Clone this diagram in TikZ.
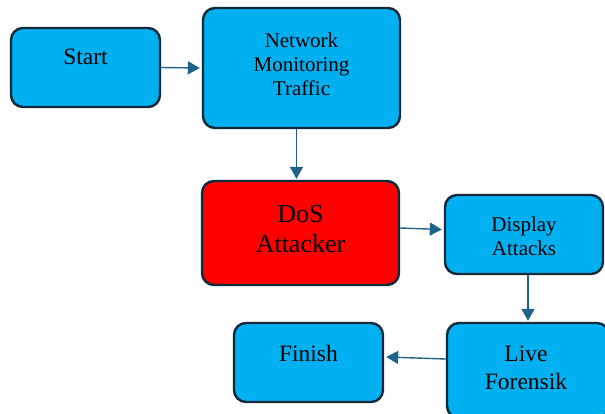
\documentclass[tikz,border=0pt]{standalone}
\usepackage{fontspec}
\setmainfont{Liberation Serif}
\newfontfamily\boxfont{Liberation Serif}
\usetikzlibrary{arrows.meta}
\definecolor{boxcyan}{HTML}{00B0F0}
\definecolor{boxred}{HTML}{FF0000}
\definecolor{edge}{HTML}{0F2A3C}
\definecolor{flow}{HTML}{1F6388}
\tikzset{
  stepbox/.style={draw=edge, line width=2.4pt, rounded corners=12pt,
    fill=boxcyan, inner sep=0pt, minimum width=#1},
  lbl/.style={align=center, inner sep=0pt, text=black},
  flowarrow/.style={draw=flow, line width=1.4pt,
    -{Triangle[length=12pt,width=13pt]}}
}
\begin{document}
\begin{tikzpicture}[x=1pt,y=-1pt]
\useasboundingbox (0,0) rectangle (605,414);
\clip (0,0) rectangle (605,414);
% boxes
\node[stepbox=149pt, minimum height=79pt] (start) at (85.5,67.5) {};
\node[stepbox=197pt, minimum height=120pt] (nmt) at (301.5,68) {};
\node[stepbox=197pt, minimum height=104pt, fill=boxred] (dos) at (300.5,233) {};
\node[stepbox=158pt, minimum height=79pt] (disp) at (524,234.5) {};
\node[stepbox=162pt, minimum height=95pt] (live) at (528,370.5) {};
\node[stepbox=149pt, minimum height=79pt] (finish) at (308.5,362.5) {};
% texts
\node[lbl, font=\boxfont\fontsize{23.5}{28}\selectfont] (startlbl) at (85.5,57) {Start};
\node[lbl, font=\boxfont\fontsize{21}{24}\selectfont] (nmtlbl) at (301.5,64) {Network\\Monitoring\\Traffic};
\node[lbl, font=\boxfont\fontsize{26}{30}\selectfont] (doslbl) at (300.5,229) {DoS\\Attacker};
\node[lbl, font=\boxfont\fontsize{21}{24}\selectfont] (displbl) at (524,236) {Display\\Attacks};
\node[lbl, font=\boxfont\fontsize{23.5}{28}\selectfont] (livelbl) at (526,368) {Live\\Forensik};
\node[lbl, font=\boxfont\fontsize{23.5}{28}\selectfont] (finishlbl) at (308.5,353) {Finish};
% connectors
\draw[flowarrow] (start.east) -- ([xshift=-2pt]nmt.west);
\draw[flowarrow] ([xshift=-5pt]nmt.south) -- ([xshift=-5pt,yshift=1pt]nmt.south |- dos.north);
\draw[flowarrow] ([yshift=5pt]dos.east) -- ([xshift=-2pt,yshift=5pt]disp.west);
\draw[flowarrow] ([xshift=4pt]disp.south) -- ([xshift=4pt,yshift=1pt]disp.south |- live.north);
\draw[flowarrow] ([yshift=11.5pt]live.west) -- ([xshift=2pt,yshift=5.5pt]finish.east);
\end{tikzpicture}
\end{document}
